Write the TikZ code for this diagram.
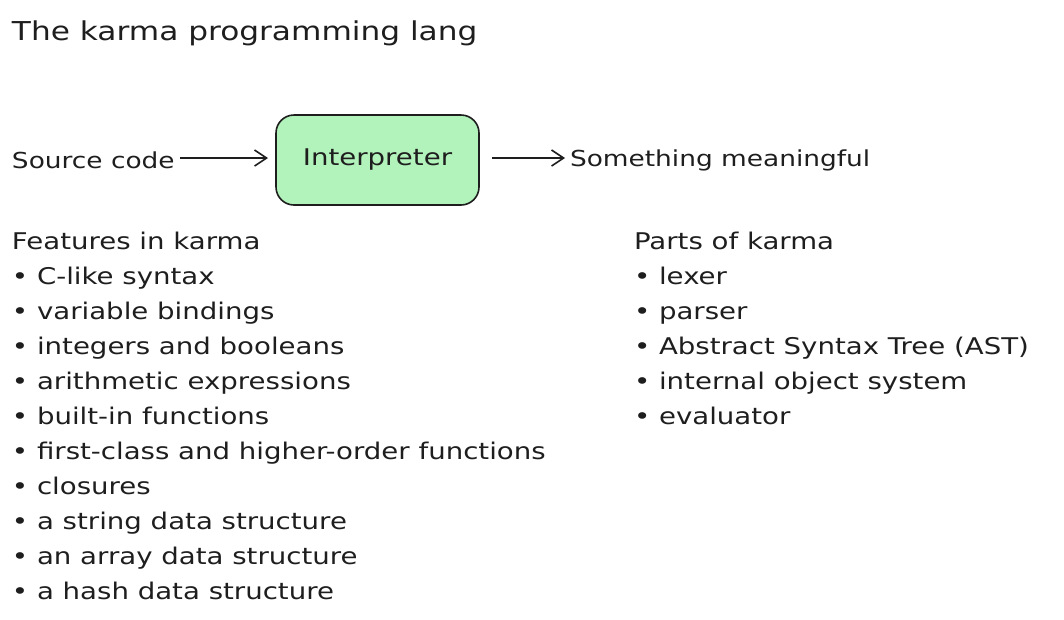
\documentclass[tikz,border=0pt]{standalone}
\usepackage{fontspec}
\setmainfont{DejaVu Sans}[FakeStretch=1.2]
\usetikzlibrary{arrows.meta}
\definecolor{ink}{HTML}{1E1E1E}
\definecolor{boxfill}{HTML}{B2F2BB}
\tikzset{
  txt/.style={inner sep=0pt, outer sep=0pt, text=ink, font=\fontsize{23}{35}\selectfont, align=left},
  procbox/.style={draw=ink, fill=boxfill, line width=1.6pt, rounded corners=18pt, minimum width=203pt, minimum height=90pt, inner sep=0pt, text=ink, font=\fontsize{23}{35}\selectfont},
  flow/.style={draw=ink, line width=1.6pt, -{Straight Barb[length=12pt,width=16pt,line width=1.6pt]}}
}
\begin{document}
\begin{tikzpicture}[x=1pt,y=-1pt]
\useasboundingbox (0,0) rectangle (1064,619);
\node[txt, anchor=base west, font=\fontsize{26}{34}\selectfont] (title) at (12,40) {The karma programming lang};
\node[txt, anchor=base west, font=\fontsize{22}{35}\selectfont] (src) at (12,168) {Source code};
\node[procbox] (interp) at (377.5,160) {Interpreter};
\node[txt, anchor=base west, font=\fontsize{22}{35}\selectfont] (out) at (570,166) {Something meaningful};
\coordinate (a0) at (180,158);
\coordinate (a1) at (268,158);
\coordinate (b0) at (492,158);
\coordinate (b1) at (565,158);
\draw[flow] (a0) -- (a1);
\draw[flow] (b0) -- (b1);
\node[txt, anchor=north west] (feat) at (12,232) {Features in karma\\
\textbullet\ C-like syntax\\
\textbullet\ variable bindings\\
\textbullet\ integers and booleans\\
\textbullet\ arithmetic expressions\\
\textbullet\ built-in functions\\
\textbullet\ first-class and higher-order functions\\
\textbullet\ closures\\
\textbullet\ a string data structure\\
\textbullet\ an array data structure\\
\textbullet\ a hash data structure};
\node[txt, anchor=north west] (parts) at (634,232) {Parts of karma\\
\textbullet\ lexer\\
\textbullet\ parser\\
\textbullet\ Abstract Syntax Tree (AST)\\
\textbullet\ internal object system\\
\textbullet\ evaluator};
\end{tikzpicture}
\end{document}
